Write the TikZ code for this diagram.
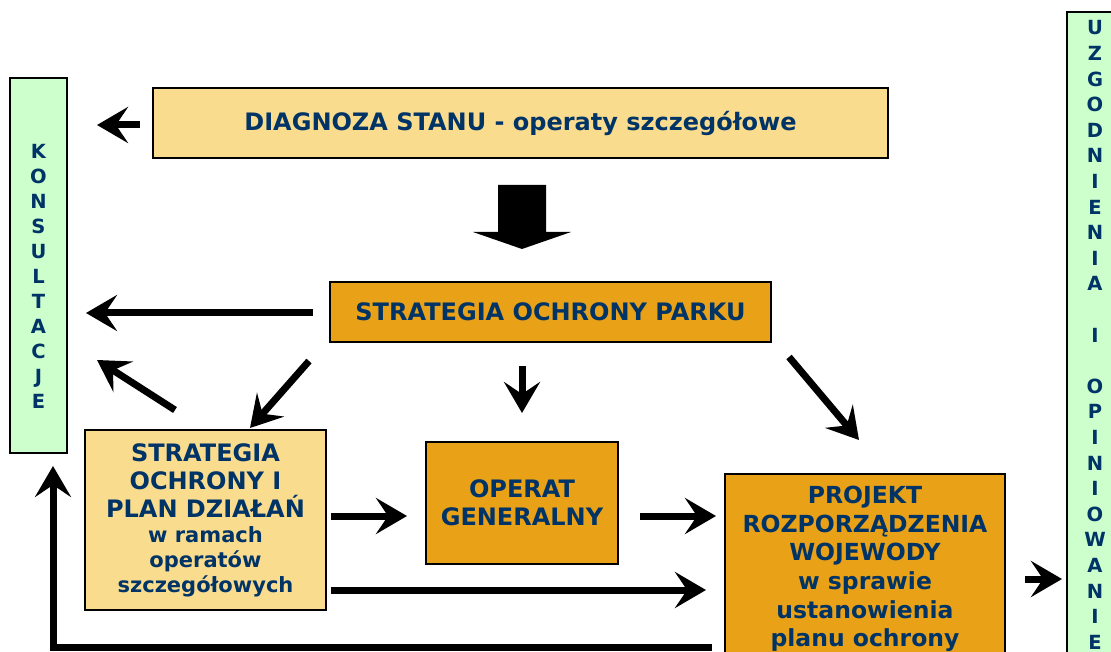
\documentclass[tikz,border=0pt]{standalone}
\usepackage{fontspec}
\setmainfont{DejaVu Sans}
\usetikzlibrary{arrows.meta}

\definecolor{navy}{HTML}{003366}
\definecolor{sand}{HTML}{F9DC8E}
\definecolor{amber}{HTML}{E9A117}
\definecolor{mint}{HTML}{CCFFCC}

\begin{document}
\begin{tikzpicture}[x=1pt, y=-1pt,
    paleblock/.style={rectangle, draw=black, line width=1.6pt, fill=sand, text=navy, align=center, inner sep=0pt, font=\bfseries\fontsize{24}{28}\selectfont},
    mainblock/.style={paleblock, fill=amber},
    sidebar/.style={rectangle, draw=black, line width=1.6pt, fill=mint, minimum width=57pt},
    letters/.style={text=navy, align=center, inner sep=0pt},
    arrow/.style={line width=7pt, -{Stealth[length=31pt, width=36pt, inset=12pt]}}]

    \useasboundingbox (0,0) rectangle (1111,652);
    \clip (0,0) rectangle (1111,652);

    % side columns
    \node (kons) [sidebar, minimum height=375pt] at (38.5,265.5) {};
    \node (konstext) [letters, font=\bfseries\fontsize{19.5}{25}\selectfont] at (38.5,276) {K\\O\\N\\S\\U\\L\\T\\A\\C\\J\\E};
    \node (uzg) [sidebar, minimum height=660pt] at (1095.5,342) {};
    \node (uzgtext) [letters, font=\bfseries\fontsize{19.5}{25.6}\selectfont] at (1095,335) {U\\Z\\G\\O\\D\\N\\I\\E\\N\\I\\A\\~\\I\\~\\O\\P\\I\\N\\I\\O\\W\\A\\N\\I\\E};

    % main blocks
    \node (diag) [paleblock, minimum width=735pt, minimum height=70pt] at (520.5,123) {DIAGNOZA STANU - operaty szczegółowe};
    \node (park) [mainblock, minimum width=441pt, minimum height=60pt] at (550.5,312) {STRATEGIA OCHRONY PARKU};
    \node (plan) [paleblock, minimum width=241pt, minimum height=180pt] at (205.5,520) {STRATEGIA\\OCHRONY I\\PLAN DZIAŁAŃ\\[-3pt]{\fontsize{21}{25}\selectfont w ramach}\\[-3pt]{\fontsize{21}{25}\selectfont operatów}\\[-3pt]{\fontsize{21}{25}\selectfont szczegółowych}};
    \node (oper) [mainblock, minimum width=192pt, minimum height=122pt] at (522,503) {OPERAT\\GENERALNY};
    \node (proj) [mainblock, minimum width=280pt, minimum height=190pt, font=\bfseries\fontsize{23.5}{28.6}\selectfont] at (865,569) {PROJEKT\\ROZPORZĄDZENIA\\WOJEWODY\\w sprawie\\ustanowienia\\planu ochrony};

    % big block arrow
    \fill (498,185) -- (546,185) -- (546,232) -- (571,232) -- (522,249) -- (473,232) -- (498,232) -- cycle;

    % arrow ends
    \coordinate (diagout) at (140,125);   \coordinate (konsin1) at (97,125);
    \coordinate (parkout1) at (313,313);  \coordinate (konsin2) at (86,313);
    \coordinate (planout1) at (175,410);  \coordinate (konsin3) at (97,360);
    \coordinate (parkout2) at (309,361);  \coordinate (planin) at (250,428);
    \coordinate (parkout3) at (522,366);  \coordinate (operin) at (522,413);
    \coordinate (parkout4) at (789,357);  \coordinate (projin1) at (859,440);
    \coordinate (planout2) at (331,516);  \coordinate (operin2) at (407,516);
    \coordinate (operout) at (640,516);   \coordinate (projin2) at (716,516);
    \coordinate (planout3) at (331,590);  \coordinate (projin3) at (706,590);
    \coordinate (projout1) at (712,647);  \coordinate (konsin4) at (53,466);
    \coordinate (projout2) at (1025,579); \coordinate (uzgin) at (1062,579);

    \draw [arrow] (diagout) -- (konsin1);
    \draw [arrow] (parkout1) -- (konsin2);
    \draw [arrow] (planout1) -- (konsin3);
    \draw [arrow] (parkout2) -- (planin);
    \draw [arrow] (parkout3) -- (operin);
    \draw [arrow] (parkout4) -- (projin1);
    \draw [arrow] (planout2) -- (operin2);
    \draw [arrow] (operout) -- (projin2);
    \draw [arrow] (planout3) -- (projin3);
    \draw [arrow] (projout1) -| (konsin4);
    \draw [arrow] (projout2) -- (uzgin);

  \end{tikzpicture}
\end{document}
